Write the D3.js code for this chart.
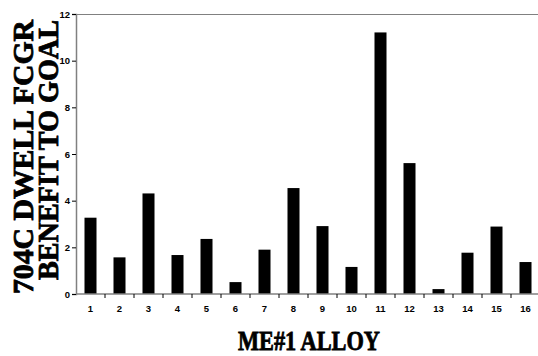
<!DOCTYPE html>
<html><head><meta charset="utf-8">
<script src="https://cdn.jsdelivr.net/npm/d3@7"></script>
<style>body{margin:0;background:#fff}svg{display:block}
.ttl{font-family:"Liberation Serif","Times New Roman",serif;font-weight:bold;stroke:#000;stroke-width:0.8px}
.tk{font-family:"Liberation Sans",Arial,sans-serif;font-weight:bold}</style>
</head><body>
<script>
const categories = ["1","2","3","4","5","6","7","8","9","10","11","12","13","14","15","16"];
const values = [3.27,1.57,4.31,1.67,2.36,0.51,1.90,4.54,2.91,1.16,11.21,5.61,0.21,1.77,2.89,1.37];
const yTicks = [0,2,4,6,8,10,12];
const yTitle = ["704C DWELL FCGR","BENEFIT TO GOAL"];
const xTitle = "ME#1 ALLOY";

(function(){
const W=538,H=356;
const svg=d3.select("body").append("svg").attr("width",W).attr("height",H);
const mLeft=76, mRight=540, mTop=14, mBottom=294;
const x=d3.scaleBand().domain(categories).range([mLeft,mRight]).paddingInner(0.586).paddingOuter(0.293);
const y=d3.scaleLinear().domain([0,12]).range([mBottom,mTop]);

svg.append("line").attr("x1",mLeft).attr("x2",W).attr("y1",mTop+0.5).attr("y2",mTop+0.5).attr("stroke","#808080").attr("stroke-width",1);

svg.selectAll("rect.bar").data(values).join("rect").attr("class","bar")
 .attr("x",(d,i)=>x(categories[i])).attr("width",x.bandwidth())
 .attr("y",d=>y(d)).attr("height",d=>y(0)-y(d)).attr("fill","#000");

const yAxis=svg.append("g").attr("transform",`translate(${mLeft},0)`)
 .call(d3.axisLeft(y).tickValues(yTicks).tickSize(4).tickPadding(2).tickFormat(d3.format("d")));
yAxis.select(".domain").attr("stroke","#808080").attr("stroke-width",1.5);
yAxis.selectAll(".tick line").attr("stroke","#000");
yAxis.selectAll("text").attr("class","tk").attr("font-size",9.5).attr("fill","#000");

const xg=svg.append("g").attr("transform",`translate(0,${mBottom})`);
xg.append("line").attr("x1",mLeft).attr("x2",W).attr("y1",0).attr("y2",0).attr("stroke","#808080").attr("stroke-width",1.5);
const step=x.step();
xg.selectAll("line.t").data(categories.slice(1)).join("line").attr("class","t")
 .attr("x1",d=>x(d)-(step-x.bandwidth())/2).attr("x2",d=>x(d)-(step-x.bandwidth())/2)
 .attr("y1",0).attr("y2",4).attr("stroke","#000");
xg.selectAll("text").data(categories).join("text").attr("class","tk")
 .attr("x",d=>x(d)+x.bandwidth()/2).attr("y",18).attr("text-anchor","middle")
 .attr("font-size",9.5).attr("fill","#000")
 .text(d=>d);

const yt=svg.append("g");
yt.append("text").attr("class","ttl").attr("transform","translate(32.5,157) rotate(-90)").attr("text-anchor","middle")
 .attr("font-size",29).attr("textLength",274).attr("lengthAdjust","spacingAndGlyphs").text(yTitle[0]);
yt.append("text").attr("class","ttl").attr("transform","translate(58,150) rotate(-90)").attr("text-anchor","middle")
 .attr("font-size",29).attr("textLength",260).attr("lengthAdjust","spacingAndGlyphs").text(yTitle[1]);

svg.append("text").attr("class","ttl").attr("x",309).attr("y",350).attr("text-anchor","middle")
 .attr("font-size",27).attr("textLength",142).attr("lengthAdjust","spacingAndGlyphs").text(xTitle);
})();
</script>
</body></html>
